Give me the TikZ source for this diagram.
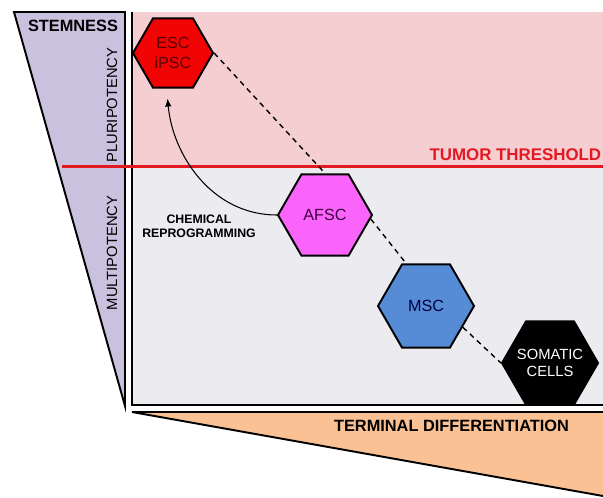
\documentclass[tikz,border=0pt]{standalone}
\usepackage{fontspec}
\setmainfont{Liberation Sans}
\usepackage{xcolor}
\usetikzlibrary{arrows.meta,positioning,shapes.geometric}

\definecolor{stemviolet}{RGB}{201,193,222}
\definecolor{tumorpink}{RGB}{245,206,210}
\definecolor{panelgray}{RGB}{236,236,240}
\definecolor{diffsand}{RGB}{250,194,148}
\definecolor{tumorred}{RGB}{228,24,32}
\definecolor{escred}{RGB}{240,4,4}
\definecolor{afscpink}{RGB}{250,100,250}
\definecolor{mscblue}{RGB}{86,140,214}

\begin{document}
\begin{tikzpicture}[x=1cm,y=1cm,>=Latex,
  cell/.style={regular polygon,regular polygon sides=6,draw,line width=1.1pt,inner sep=0pt,align=center,font=\fontsize{9.2}{11}\selectfont},
  axislabel/.style={font=\fontsize{8.4}{10}\selectfont,rotate=90},
  heading/.style={font=\bfseries\fontsize{9.3}{11}\selectfont}
]
  \useasboundingbox (0,0) rectangle (12.06,9.96);

  % stemness wedge and panel
  \draw[line width=1.1pt,fill=stemviolet] (0.28,9.72) -- (2.50,9.72) -- (2.50,1.84) -- cycle;
  \fill[tumorpink] (2.64,6.62) rectangle (12.06,9.72);
  \fill[panelgray] (2.64,1.86) rectangle (12.06,6.62);
  \draw[line width=1.1pt] (2.64,9.72) -- (2.64,1.86) -- (12.06,1.86);
  \draw[line width=1.1pt,fill=diffsand] (12.06,1.72) -- (2.64,1.72) -- (12.06,0.04);
  \draw[tumorred,line width=1.3pt] (1.24,6.63) -- (12.06,6.63);

  \node[heading] (stemness) at (1.46,9.44) {STEMNESS};
  \node[axislabel] (pluri) at (2.24,7.86) {PLURIPOTENCY};
  \node[axislabel] (multi) at (2.24,4.90) {MULTIPOTENCY};
  \node[heading,text=tumorred,anchor=east,font=\bfseries\fontsize{9.6}{11}\selectfont,inner sep=0pt] (tumor) at (12.03,6.86) {TUMOR THRESHOLD};
  \node[heading] (terminal) at (9.03,1.44) {TERMINAL DIFFERENTIATION};
  \node[font=\bfseries\fontsize{7}{8.2}\selectfont,align=center] (chem) at (3.98,5.44) {CHEMICAL\\REPROGRAMMING};

  % cell types
  \node[cell,fill=escred,text=red!35!black,minimum size=1.6cm] (esc) at (3.46,8.90) {ESC\\iPSC};
  \node[cell,fill=afscpink,text=violet!50!black,minimum size=1.88cm] (afsc) at (6.50,5.66) {AFSC};
  \node[cell,fill=mscblue,text=blue!25!black,minimum size=1.92cm] (msc) at (8.52,3.84) {MSC};
  \node[cell,fill=black,text=white,minimum size=1.92cm,inner sep=-4pt,font=\fontsize{8.4}{10}\selectfont] (somatic) at (11.00,2.70) {SOMATIC\\CELLS};

  \draw[thick,dash pattern=on 3pt off 2.5pt] (esc.east) -- (afsc.north);
  \draw[thick,dash pattern=on 3pt off 2.5pt] (afsc.-5) -- (msc.115);
  \draw[thick,dash pattern=on 3pt off 2.5pt] (msc.-30) -- (somatic.west);
  \draw[->,line width=0.6pt,>={Latex[length=1.6mm,width=1.3mm]},shorten >=0.2cm] (afsc.west) to[out=180,in=-85] (esc.-100);
\end{tikzpicture}
\end{document}
